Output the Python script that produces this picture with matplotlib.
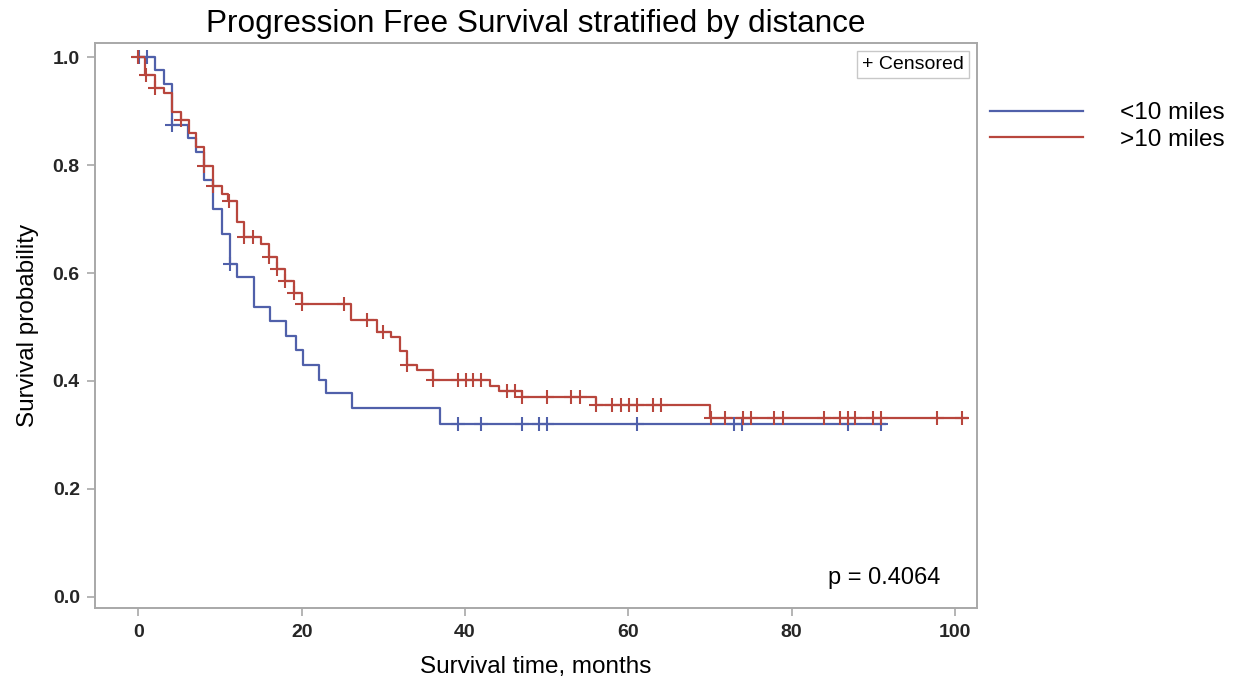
import matplotlib
matplotlib.use("Agg")
import matplotlib.pyplot as plt
import numpy as np

plt.rcParams["font.family"] = ["Liberation Sans", "DejaVu Sans"]

# <10 miles group: event times (months) and survival after each step
near_times = [2.1, 3.1, 4.1, 6.1, 7.1, 8.05, 9.1, 10.2, 11.2, 12.05, 14.2, 16.1,
              18.1, 19.3, 20.2, 22.1, 23.0, 26.2, 37.0]
near_surv = [0.977, 0.951, 0.875, 0.850, 0.824, 0.772, 0.719, 0.673, 0.617, 0.592,
             0.537, 0.511, 0.484, 0.458, 0.429, 0.402, 0.377, 0.350, 0.321]
near_censored = [0.1, 1.1, 4.1, 11.2, 39.2, 42.0, 47.0, 49.1, 50.0, 61.1, 72.9,
                 73.9, 86.9, 90.9]
near_end = 91.4

# >10 miles group
far_times = [0.8, 2.0, 3.1, 4.15, 5.2, 6.2, 7.1, 8.05, 9.1, 10.2, 11.0, 12.1, 13.0,
             15.0, 16.05, 17.0, 18.0, 19.1, 20.0, 26.1, 29.2, 30.9, 32.0, 32.9,
             34.1, 36.05, 43.05, 44.2, 47.0, 56.0, 70.0]
far_surv = [0.968, 0.944, 0.933, 0.899, 0.883, 0.860, 0.834, 0.798, 0.761, 0.746,
            0.733, 0.695, 0.667, 0.653, 0.630, 0.608, 0.586, 0.563, 0.542, 0.513,
            0.490, 0.482, 0.455, 0.429, 0.421, 0.402, 0.391, 0.381, 0.370, 0.356,
            0.332]
far_censored = [0.0, 1.0, 2.0, 5.2, 8.05, 9.1, 11.05, 13.0, 14.0, 16.05, 17.0, 18.0,
                19.1, 20.0, 25.2, 28.0, 30.0, 32.9, 36.05, 39.2, 40.1, 41.0, 42.0,
                45.1, 46.1, 47.0, 50.0, 53.0, 54.1, 56.0, 58.0, 59.1, 60.1, 61.1,
                63.0, 64.0, 70.1, 71.9, 74.0, 75.0, 77.9, 79.0, 84.0, 85.9, 86.9,
                87.8, 90.0, 90.9, 97.8, 100.9]
far_end = 101.5

labels = ["<10 miles", ">10 miles"]
colors = ["#5060aa", "#b8463d"]
p_value = "p = 0.4064"


def draw_km(ax, times, surv, censored, end, color, label):
    t = np.concatenate([[0.0], times, [end]])
    s = np.concatenate([[1.0], surv, [surv[-1]]])
    ax.step(t, s, where="post", color=color, lw=1.6, label=label, zorder=3)
    idx = np.searchsorted(t[:-1], censored, side="right") - 1
    ax.plot(censored, s[idx], ls="none", marker="+", ms=10, mew=1.5,
            color=color, zorder=4)


fig = plt.figure(figsize=(12.39, 6.86), dpi=100)
ax = fig.add_axes([0.0767, 0.1133, 0.7118, 0.8236])

draw_km(ax, near_times, near_surv, near_censored, near_end, colors[0], labels[0])
draw_km(ax, far_times, far_surv, far_censored, far_end, colors[1], labels[1])

ax.set_xlim(-5.3, 102.7)
ax.set_ylim(-0.0215, 1.026)
ax.set_xticks([0, 20, 40, 60, 80, 100])
ax.set_yticks([0.0, 0.2, 0.4, 0.6, 0.8, 1.0])
ax.yaxis.set_major_formatter(plt.FuncFormatter(lambda y, _: f"{y:.1f}"))

for sp in ax.spines.values():
    sp.set_color("#a8a8a8")
    sp.set_linewidth(1.4)
ax.tick_params(length=6, width=1.2, color="#a8a8a8", labelsize=14,
               labelcolor="#262626", pad=5)
for lab in ax.get_xticklabels() + ax.get_yticklabels():
    lab.set_fontweight("bold")

ax.set_title("Progression Free Survival stratified by distance", fontsize=22.7, pad=8)
ax.set_xlabel("Survival time, months", fontsize=17.5, labelpad=11)
ax.set_ylabel("Survival probability", fontsize=17.5, labelpad=10)

ax.text(0.985, 0.977, "+ Censored", transform=ax.transAxes, ha="right", va="top",
        fontsize=14, bbox=dict(boxstyle="square,pad=0.25", facecolor="white",
                               edgecolor="#c8c8c8", linewidth=1))
ax.text(0.831, 0.054, p_value, transform=ax.transAxes, ha="left", va="center",
        fontsize=17)

handles, leg_labels = ax.get_legend_handles_labels()
fig.legend(handles, leg_labels, loc="upper left", bbox_to_anchor=(0.7895, 0.869),
           frameon=False, fontsize=17.5, handlelength=3.8, handletextpad=1.55,
           labelspacing=0.2, borderpad=0)

fig.savefig("out.png", dpi=100, facecolor="white")
plt.close(fig)
